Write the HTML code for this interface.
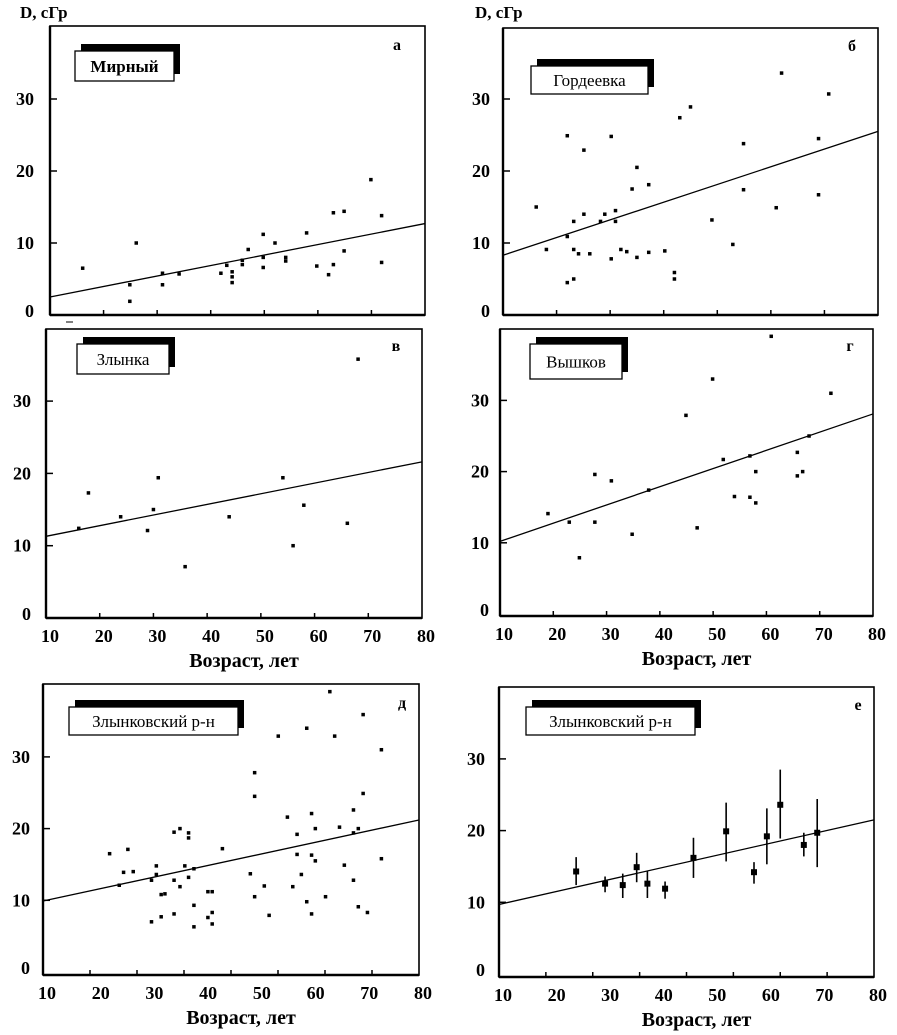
<!DOCTYPE html>
<html><head><meta charset="utf-8"><style>
html,body{margin:0;padding:0;background:#fff;}
svg{display:block;font-family:"Liberation Serif","DejaVu Serif",serif;}
</style></head><body>
<svg id="fig" width="897" height="1035" viewBox="0 0 897 1035" xmlns="http://www.w3.org/2000/svg">
<text x="20" y="18" font-size="17" font-weight="bold">D, сГр</text>
<text x="475" y="18" font-size="17" font-weight="bold">D, сГр</text>
<line x1="66" y1="322" x2="73" y2="322" stroke="#000" stroke-width="1"/>
</svg>
<script>
// ---- data ----
const aX=[16.1,24.9,24.9,26.1,31.0,31.0,34.1,41.9,43.0,44.0,44.0,44.0,45.9,45.9,47.0,49.8,49.8,49.8,52.0,54.0,54.0,57.9,59.8,62.0,62.9,62.9,64.9,64.9,69.9,71.9,71.9];
const aY=[6.5,4.2,1.9,10.0,4.2,5.8,5.7,5.8,6.9,6.0,5.3,4.5,7.0,7.6,9.1,11.2,8.0,6.6,10.0,8.0,7.5,11.4,6.8,5.6,14.2,7.0,14.4,8.9,18.8,13.8,7.3];
const aLine=[2.5,12.7];
const bX=[16.2,18.1,22.0,22.0,22.0,23.2,23.2,23.2,24.1,25.1,25.1,26.2,28.2,29.0,30.2,30.2,31.0,31.0,32.0,33.1,34.1,35.0,35.0,37.2,37.2,40.2,42.0,42.0,43.0,45.0,49.0,52.9,54.9,54.9,61.0,62.0,68.9,68.9,70.8];
const bY=[15.0,9.1,24.9,10.9,4.5,13.0,9.1,5.0,8.5,22.9,14.0,8.5,13.0,14.0,24.8,7.8,14.5,13.0,9.1,8.8,17.5,20.5,8.0,18.1,8.7,8.9,5.9,5.0,27.4,28.9,13.2,9.8,23.8,17.4,14.9,33.6,24.5,16.7,30.7];
const bLine=[8.3,25.5];
const vX=[16.1,17.9,23.9,28.9,30.0,30.9,35.9,44.1,54.1,56.0,58.0,66.1,68.1];
const vY=[12.4,17.3,14.0,12.1,15.0,19.4,7.1,14.0,19.4,10.0,15.6,13.1,35.8];
const vLine=[11.3,21.6];
const gX=[19.0,23.0,24.9,27.8,27.8,30.9,34.8,37.9,44.9,47.0,49.9,51.9,54.0,56.9,56.9,58.0,58.0,60.9,65.8,65.8,66.8,68.0,72.1];
const gY=[14.1,12.9,7.9,19.6,12.9,18.7,11.2,17.4,27.9,12.1,33.0,21.7,16.5,16.4,22.2,20.0,15.6,39.0,22.7,19.4,20.0,25.0,31.0];
const gLine=[10.2,28.1];
const dX=[22.4,24.2,25.0,25.8,26.8,30.2,30.2,31.1,31.1,32.0,32.7,32.0,34.4,34.4,34.4,35.5,35.5,36.4,37.1,37.1,37.1,38.1,38.1,38.1,40.7,41.5,40.7,41.5,41.5,43.4,48.6,49.4,49.4,49.4,51.2,52.1,53.8,55.5,56.5,57.3,57.3,58.1,59.1,59.1,60.0,60.0,60.0,60.7,60.7,62.6,63.4,64.3,65.2,66.1,67.8,67.8,67.8,68.7,68.7,69.6,69.6,70.4,73.0,73.0];
const dY=[16.5,12.1,13.9,17.1,14.0,7.0,12.8,14.8,13.6,10.8,10.9,7.7,19.5,12.8,8.1,20.0,11.9,14.8,19.4,18.7,13.2,14.4,9.3,6.3,11.2,11.2,7.6,6.7,8.3,17.2,13.7,27.8,24.5,10.5,12.0,7.9,32.9,21.6,11.9,19.2,16.4,13.6,34.0,9.8,22.1,16.3,8.1,20.0,15.5,10.5,39.1,32.9,20.2,14.9,22.6,19.4,12.8,20.0,9.1,35.9,24.9,8.3,31.0,15.8];
const dLine=[9.9,21.2];
const eX=[24.4,29.8,33.1,35.7,37.7,41.0,46.3,52.4,57.6,60.0,62.5,66.9,69.4];
const eY=[14.3,12.6,12.4,14.9,12.6,11.9,16.2,19.9,14.2,19.2,23.6,18.0,19.7];
const eLo=[12.4,11.4,10.6,12.8,10.6,10.5,13.4,15.7,12.6,15.3,18.9,16.4,14.9];
const eHi=[16.3,13.6,14.0,16.9,14.3,12.9,19.0,23.9,15.6,23.1,28.5,19.7,24.4];
const eLine=[9.7,21.5];
const xTicks=[10,20,30,40,50,60,70,80];
const yTicks=[0,10,20,30];

const NS="http://www.w3.org/2000/svg";
const svg=document.getElementById('fig');
function mk(tag,attrs,parent){const e=document.createElementNS(NS,tag);for(const k in attrs)e.setAttribute(k,attrs[k]);(parent||svg).appendChild(e);return e;}

function panel(c){
  const g=mk('g',{});
  
  
  const sx=v=>c.x0+(v-10)*(c.x1-c.x0)/70;
  const sy=v=>c.y0-v*c.p10/10;
  const fr=mk('rect',{x:c.x0,y:c.top,width:c.x1-c.x0,height:c.y0b-c.top,fill:'none',stroke:'#000','stroke-width':1.6},g);
  
  
  mk('line',{x1:c.x0,y1:c.top,x2:c.x0,y2:c.y0b,stroke:'#000','stroke-width':2.4},g);
  mk('line',{x1:c.x0,y1:c.y0b,x2:c.x1,y2:c.y0b,stroke:'#000','stroke-width':2.4},g);
  const n=c.nTicks;
  for(let i=1;i<n;i++){const tx=c.x0+i*(c.x1-c.x0)/n;mk('line',{x1:tx,y1:c.y0b,x2:tx,y2:c.y0b-5,stroke:'#000','stroke-width':1.5},g);}
  yTicks.forEach(t=>{
    if(t>0)mk('line',{x1:c.x0,y1:sy(t),x2:c.x0+7,y2:sy(t),stroke:'#000','stroke-width':1.5},g);
    const tl=mk('text',{x:c.lx,y:sy(t)-(t===0?4:0)+6,'font-size':18,'font-weight':'bold','text-anchor':'end'},g);
    tl.textContent=t;
    
    
  });
  if(c.xlabels){
    xTicks.forEach(t=>{
      const tl=mk('text',{x:sx(t)+4,y:c.y0b+24,'font-size':18,'font-weight':'bold','text-anchor':'middle'},g);
      tl.textContent=t;
      
      
    });
    const xt=mk('text',{x:(c.x0+c.x1)/2+10,y:c.y0b+49,'font-size':20,'font-weight':'bold','text-anchor':'middle'},g);
    xt.textContent='Возраст, лет';
    
    
  }
  const rl=mk('line',{x1:sx(10),y1:sy(c.line[0]),x2:sx(80),y2:sy(c.line[1]),stroke:'#000','stroke-width':1.3},g);
  
  
  c.xs.forEach((xv,i)=>{
    if(c.lo){
      const eb=mk('line',{x1:sx(xv),y1:sy(c.lo[i]),x2:sx(xv),y2:sy(c.hi[i]),stroke:'#000','stroke-width':1.6},g);
      
      
      const pt=mk('rect',{x:sx(xv)-3,y:sy(c.ys[i])-3,width:6,height:6,fill:'#000'},g);
      
      
    } else {
      const pt=mk('rect',{x:sx(xv)-1.75,y:sy(c.ys[i])-1.75,width:3.5,height:3.5,fill:'#000'},g);
      
      
    }
  });
  const b=c.box;
  mk('rect',{x:b[0]+6,y:b[1]-7,width:b[2],height:b[3],fill:'#000'},g);
  const nb=mk('rect',{x:b[0],y:b[1],width:b[2],height:b[3],fill:'#fff',stroke:'#000','stroke-width':1.3},g);
  
  
  const nt=mk('text',{x:b[0]+b[2]/2,y:b[1]+b[3]/2+6,'font-size':17,'font-weight':c.boldName?'bold':'normal','text-anchor':'middle'},g);
  nt.textContent=c.title;
  
  
  const pl=mk('text',{x:c.letter[0],y:c.letter[1],'font-size':16,'font-weight':'bold','text-anchor':'middle'},g);
  pl.textContent=c.letterText;
  
  
}

panel({name:'panel-a-mirny',x0:50,x1:425,top:26,y0b:315,y0:315,p10:72,nTicks:7,lx:34,xlabels:false,line:aLine,xs:aX,ys:aY,box:[75,51,99,30],title:'Мирный',boldName:true,letter:[397,50],letterText:'а'});
panel({name:'panel-b-gordeevka',x0:503,x1:878,top:28,y0b:315,y0:315,p10:72,nTicks:7,lx:490,xlabels:false,line:bLine,xs:bX,ys:bY,box:[531,66,117,28],title:'Гордеевка',boldName:false,letter:[852,51],letterText:'б'});
panel({name:'panel-v-zlynka',x0:46,x1:422,top:329,y0b:618,y0:618,p10:72.3,nTicks:7,lx:31,xlabels:true,line:vLine,xs:vX,ys:vY,box:[77,344,92,30],title:'Злынка',boldName:false,letter:[396,351],letterText:'в'});
panel({name:'panel-g-vyshkov',x0:500,x1:873,top:329,y0b:616,y0:614,p10:71.2,nTicks:7,lx:489,xlabels:true,line:gLine,xs:gX,ys:gY,box:[530,344,92,35],title:'Вышков',boldName:false,letter:[850,351],letterText:'г'});
panel({name:'panel-d-zlynka-district',x0:43,x1:419,top:684,y0b:975,y0:972,p10:71.7,nTicks:8,lx:30,xlabels:true,line:dLine,xs:dX,ys:dY,box:[69,707,169,28],title:'Злынковский р-н',boldName:false,letter:[402,708],letterText:'д'});
panel({name:'panel-e-zlynka-district-means',x0:499,x1:874,top:687,y0b:977,y0:974,p10:71.7,nTicks:8,lx:485,xlabels:true,line:eLine,xs:eX,ys:eY,lo:eLo,hi:eHi,box:[526,707,169,28],title:'Злынковский р-н',boldName:false,letter:[858,710],letterText:'е'});
</script>
</body></html>
